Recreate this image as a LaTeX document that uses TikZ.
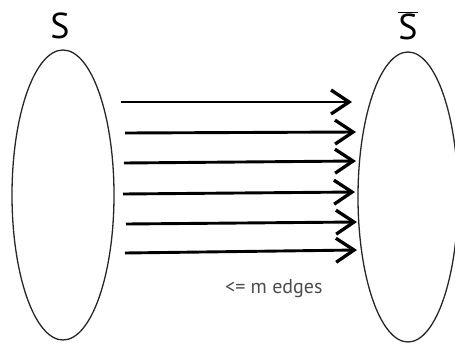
\documentclass[tikz,border=0pt]{standalone}
\usepackage{fontspec}
\setmainfont{PT Sans}
\usetikzlibrary{shapes.geometric,arrows.meta}
\tikzset{
  setellipse/.style={draw=black!85, line width=1.3pt, ellipse, inner sep=0pt},
  setlabel/.style={inner sep=0pt, font=\fontsize{36}{36}\selectfont},
  edgearrow/.style={line width=2.9pt, -{Straight Barb[length=18pt, width=24pt, line width=3.3pt]}},
  note/.style={inner sep=0pt, text=black!70, font=\fontsize{20}{20}\selectfont}
}
\begin{document}
\begin{tikzpicture}[x=1pt,y=-1pt]
\useasboundingbox (0,0) rectangle (455,343);
\clip (0,0) rectangle (455,343);
\node[setellipse, minimum width=102pt, minimum height=290pt] (S) at (63,195) {};
\node[setellipse, minimum width=100pt, minimum height=290pt] (T) at (408,197) {};
\node[setlabel] (SL) at (60,26) {S};
\node[setlabel] (TL) at (408,26) {$\overline{\hbox{S}}$};
\coordinate (s1) at (121,102); \coordinate (t1) at (352,102);
\coordinate (s2) at (125,133); \coordinate (t2) at (356,132);
\coordinate (s3) at (124,163); \coordinate (t3) at (356,161);
\coordinate (s4) at (123,194); \coordinate (t4) at (355,192);
\coordinate (s5) at (126,224); \coordinate (t5) at (357,222);
\coordinate (s6) at (125,253); \coordinate (t6) at (357,250);
\foreach \i in {1,...,6} { \draw[edgearrow] (s\i) -- (t\i); }
\node[note, anchor=west] (N) at (225,289) {<= m edges};
\end{tikzpicture}
\end{document}
